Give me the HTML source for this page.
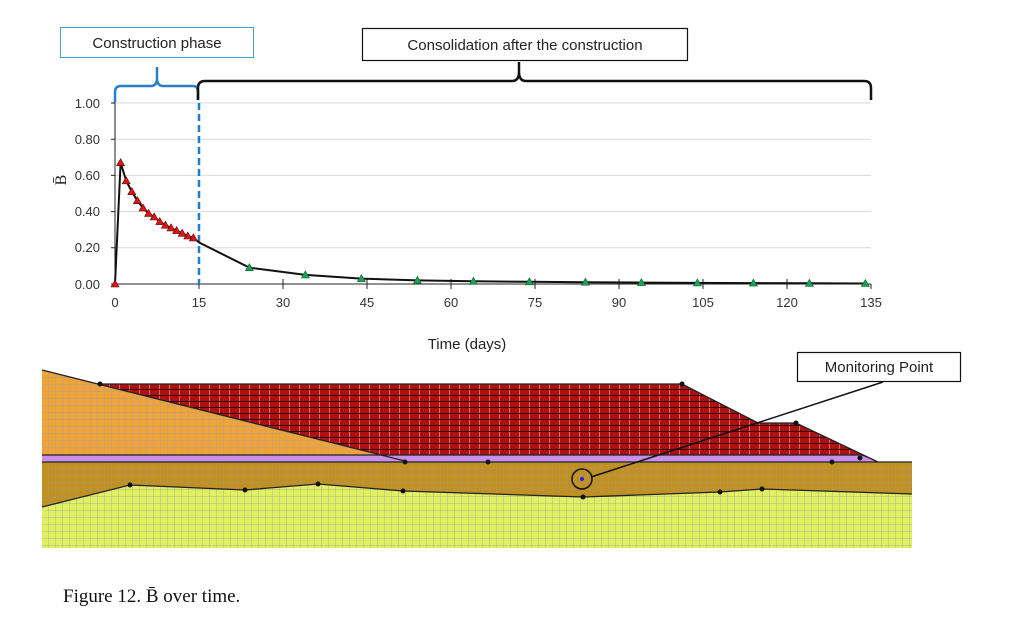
<!DOCTYPE html>
<html><head><style>
html,body{margin:0;padding:0;background:#fff;}
body{width:1024px;height:633px;overflow:hidden;}
</style></head><body>
<svg width="1024" height="633" viewBox="0 0 1024 633" xmlns="http://www.w3.org/2000/svg" style="font-family:'Liberation Sans',sans-serif">
<defs>
<pattern id="g" width="7" height="7" patternUnits="userSpaceOnUse">
<path d="M7 0V7M0 7H7" stroke="#a0a0a0" stroke-width="0.7" fill="none"/></pattern>
<pattern id="r" width="10" height="6" patternUnits="userSpaceOnUse">
<path d="M0 5.5H10" stroke="#3a0000" stroke-width="1.1"/><path d="M9.5 0V5" stroke="#e0b0b0" stroke-width="0.6"/></pattern>
</defs>
<rect x="60.5" y="27.5" width="193" height="30" fill="#fff" stroke="#4a9fd0" stroke-width="1"/>
<text x="157" y="48" font-size="15" text-anchor="middle" fill="#222">Construction phase</text>
<rect x="362.5" y="28.5" width="325" height="32" fill="#fff" stroke="#111" stroke-width="1.2"/>
<text x="525" y="50" font-size="15" text-anchor="middle" fill="#222">Consolidation after the construction</text>
<path d="M115 103 V92 Q115 86 121 86 H151 Q157 86 157 78 V67 M157 78 Q157 86 163 86 H193 Q198 86 198 92 V100" stroke="#2a7fc4" stroke-width="2.5" fill="none"/>
<path d="M198 100 V88 Q198 81 205 81 H512 Q519 81 519 72 V62 M519 72 Q519 81 526 81 H864 Q871 81 871 88 V100" stroke="#111" stroke-width="2.5" fill="none"/>
<g stroke="#d9d9d9" stroke-width="1">
<line x1="115" y1="103" x2="871" y2="103"/><line x1="115" y1="139.2" x2="871" y2="139.2"/>
<line x1="115" y1="175.4" x2="871" y2="175.4"/><line x1="115" y1="211.6" x2="871" y2="211.6"/>
<line x1="115" y1="247.8" x2="871" y2="247.8"/>
</g>
<g stroke="#222" stroke-width="1">
<line x1="115" y1="103" x2="115" y2="284"/><line x1="115" y1="284" x2="871" y2="284"/>
<path d="M111 103H115M111 139.2H115M111 175.4H115M111 211.6H115M111 247.8H115M111 284H115"/>
<path d="M199 284V289M283 284V289M367 284V289M451 284V289M535 284V289M619 284V289M703 284V289M787 284V289M871 284V289M199 279V284M283 279V284M367 279V284M451 279V284M535 279V284M619 279V284M703 279V284M787 279V284"/>
</g>
<g font-size="13" fill="#333" text-anchor="end">
<text x="100" y="108">1.00</text><text x="100" y="144">0.80</text><text x="100" y="180">0.60</text>
<text x="100" y="216">0.40</text><text x="100" y="252">0.20</text><text x="100" y="289">0.00</text>
</g>
<g font-size="13" fill="#333" text-anchor="middle">
<text x="115" y="307">0</text><text x="199" y="307">15</text><text x="283" y="307">30</text><text x="367" y="307">45</text>
<text x="451" y="307">60</text><text x="535" y="307">75</text><text x="619" y="307">90</text><text x="703" y="307">105</text>
<text x="787" y="307">120</text><text x="871" y="307">135</text>
</g>
<text x="467" y="349" font-size="15" text-anchor="middle" fill="#222">Time (days)</text>
<text transform="translate(66,180) rotate(-90)" font-size="16" text-anchor="middle" style="font-family:'Liberation Serif',serif" fill="#222">B̄</text>
<line x1="199" y1="103" x2="199" y2="284" stroke="#1f7ed0" stroke-width="2.5" stroke-dasharray="7,4"/>
<polyline fill="none" stroke="#111" stroke-width="2" points="115,284 120.6,162.7 126.2,180.8 131.8,191.7 137.4,200.7 143,208 148.6,213.4 154.2,217 159.8,221.6 165.4,225.2 171,227.9 176.6,230.6 182.2,233.3 187.8,236 193.4,237.9 199,242.4 249.4,267.7 305.4,274.9 361.4,278.6 417.4,280.4 473.4,281.3 529.4,281.8 585.4,282.2 641.4,282.6 697.4,282.9 753.4,283.1 809.4,283.3 865.4,283.5"/>
<g fill="#d81818" stroke="#600" stroke-width="0.6">
<path d="M115 280l4 7h-8z M120.6 158.7l4 7h-8z M126.2 176.8l4 7h-8z M131.8 187.7l4 7h-8z M137.4 196.7l4 7h-8z M143 204l4 7h-8z M148.6 209.4l4 7h-8z M154.2 213l4 7h-8z M159.8 217.6l4 7h-8z M165.4 221.2l4 7h-8z M171 223.9l4 7h-8z M176.6 226.6l4 7h-8z M182.2 229.3l4 7h-8z M187.8 232l4 7h-8z M193.4 233.9l4 7h-8z"/>
</g>
<g fill="#20a050" stroke="#063" stroke-width="0.6">
<path d="M249.4 263.7l4 7h-8z M305.4 270.9l4 7h-8z M361.4 274.6l4 7h-8z M417.4 276.4l4 7h-8z M473.4 277.3l4 7h-8z M529.4 277.8l4 7h-8z M585.4 278.2l4 7h-8z M641.4 278.6l4 7h-8z M697.4 278.9l4 7h-8z M753.4 279.1l4 7h-8z M809.4 279.3l4 7h-8z M865.4 279.5l4 7h-8z"/>
</g>
<polygon points="42,370 405,461 42,461" fill="#eea43a"/>
<polygon points="42,370 405,461 42,461" fill="url(#g)"/>
<polygon points="100,384 682,384 758,423 796,423 878,462 405,461" fill="#b01010"/>
<polygon points="100,384 682,384 758,423 796,423 878,462 405,461" fill="url(#r)"/>
<polygon points="42,455 860,455 878,462 42,462" fill="#c890e8"/>
<polygon points="42,462 912,462 912,494 762,489 720,492 583,497 403,491 318,484 245,490 130,485 42,507" fill="#c09020"/>
<polygon points="42,462 912,462 912,494 762,489 720,492 583,497 403,491 318,484 245,490 130,485 42,507" fill="url(#g)" opacity="0.8"/>
<polygon points="42,507 130,485 245,490 318,484 403,491 583,497 720,492 762,489 912,494 912,548 42,548" fill="#e0f060"/>
<polygon points="42,507 130,485 245,490 318,484 403,491 583,497 720,492 762,489 912,494 912,548 42,548" fill="url(#g)"/>
<g fill="none" stroke="#222" stroke-width="1.3">
<polyline points="42,370 405,461"/>
<polyline points="100,384 682,384 758,423 796,423 878,462"/>
<polyline points="42,455 860,455"/><polyline points="42,462 912,462"/>
<polyline points="42,507 130,485 245,490 318,484 403,491 583,497 720,492 762,489 912,494"/>
</g>
<g fill="#111">
<circle cx="100" cy="384" r="2.5"/><circle cx="682" cy="384" r="2.5"/><circle cx="405" cy="462" r="2.5"/>
<circle cx="488" cy="462" r="2.5"/><circle cx="832" cy="462" r="2.5"/><circle cx="130" cy="485" r="2.5"/>
<circle cx="245" cy="490" r="2.5"/><circle cx="318" cy="484" r="2.5"/><circle cx="403" cy="491" r="2.5"/>
<circle cx="583" cy="497" r="2.5"/><circle cx="720" cy="492" r="2.5"/><circle cx="762" cy="489" r="2.5"/>
<circle cx="796" cy="423" r="2.5"/><circle cx="860" cy="458" r="2.5"/>
</g>
<circle cx="582" cy="479" r="10" fill="none" stroke="#111" stroke-width="1.5"/>
<circle cx="582" cy="479" r="2" fill="#22f"/>
<line x1="591" y1="477" x2="883" y2="382" stroke="#111" stroke-width="1.5"/>
<rect x="797.5" y="352.5" width="163" height="29" fill="#fff" stroke="#111" stroke-width="1.2"/>
<text x="879" y="372" font-size="15" text-anchor="middle" fill="#222">Monitoring Point</text>
<text x="63" y="602" font-size="19" style="font-family:'Liberation Serif',serif" fill="#111">Figure 12. B̄ over time.</text>
</svg>
</body></html>
